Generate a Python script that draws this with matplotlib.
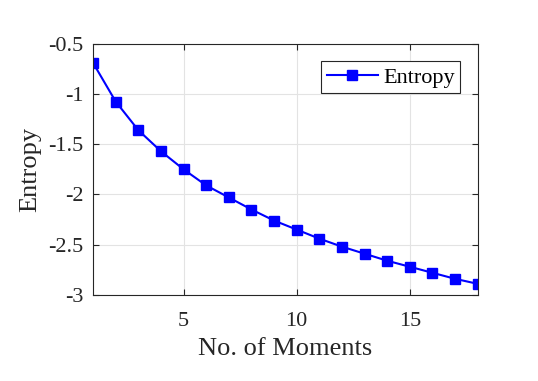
import matplotlib
matplotlib.use("Agg")
import matplotlib.pyplot as plt

moments = list(range(1, 19))
entropy = [-0.69, -1.075, -1.36, -1.57, -1.75, -1.91, -2.03, -2.15, -2.26,
           -2.35, -2.44, -2.52, -2.59, -2.66, -2.72, -2.78, -2.84, -2.89]
xticks = [5, 10, 15]
yticks = [-3, -2.5, -2, -1.5, -1, -0.5]
ytick_labels = ["-3", "-2.5", "-2", "-1.5", "-1", "-0.5"]

plt.rcParams['font.family'] = ['Liberation Serif', 'DejaVu Serif']

fig = plt.figure(figsize=(5.38, 3.81), dpi=100)
ax = fig.add_axes([0.173, 0.226, 0.715, 0.659])

ax.plot(moments, entropy, color='#0000ff', linewidth=1.5, marker='s',
        markersize=6.5, label='Entropy')

ax.set_xlim(1, 18)
ax.set_ylim(-3, -0.5)
ax.set_xticks(xticks)
ax.set_xticklabels([str(t) for t in xticks])
ax.set_yticks(yticks)
ax.set_yticklabels(ytick_labels)
ax.grid(True, color='#e3e3e3', linewidth=0.8)
ax.set_axisbelow(True)

edge = '#262626'
for s in ax.spines.values():
    s.set_color(edge)
    s.set_linewidth(0.8)
ax.tick_params(direction='in', top=True, right=True, length=4, width=0.8,
               colors=edge, labelsize=16)
ax.tick_params(axis='x', pad=12)
ax.tick_params(axis='y', pad=7)
for lbl in ax.get_xticklabels() + ax.get_yticklabels():
    lbl.set_color('#262626')

ax.set_xlabel('No. of Moments', fontsize=19, color='#262626', labelpad=5)
ax.set_ylabel('Entropy', fontsize=19, color='#262626', labelpad=5)

leg = ax.legend(loc='upper right', bbox_to_anchor=(0.955, 0.93), fontsize=16,
                fancybox=False, framealpha=1, edgecolor=edge,
                handlelength=2.3, handletextpad=0.25, borderpad=0.25,
                borderaxespad=0)
leg.get_frame().set_linewidth(0.8)

fig.savefig('out.png', dpi=100)
